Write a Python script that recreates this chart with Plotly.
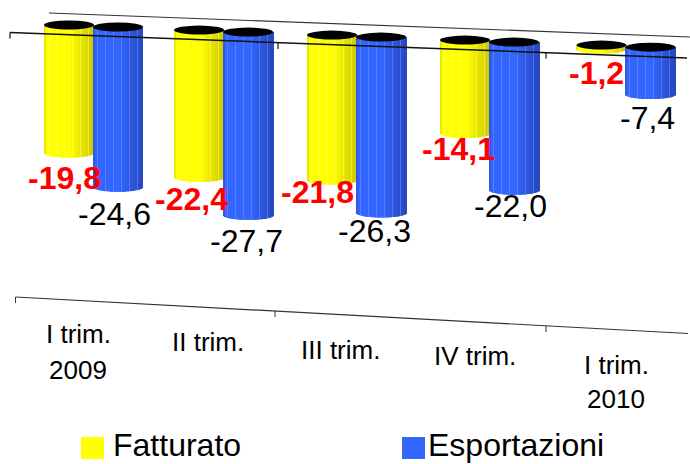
import math
import plotly.graph_objects as go

# ---- data ----
CATEGORIES = [["I trim.", "2009"], ["II trim."], ["III trim."], ["IV trim."], ["I trim.", "2010"]]
FATTURATO = [-19.8, -22.4, -21.8, -14.1, -1.2]
ESPORTAZIONI = [-24.6, -27.7, -26.3, -22.0, -7.4]
SERIES_NAMES = ["Fatturato", "Esportazioni"]

# ---- layout / style constants ----
W, H = 690, 464
PX_X = 133.0            # pixels per category
PX_Y = 6.7              # pixels per value unit
X0_PX, Y0_PX = 93.5, 22.0
GROUP_NUDGE = [0.0, -0.022, -0.0225, -0.0225, 0.004]
SERIES_OFFSET = [-24.5 / PX_X, 24.5 / PX_X]
BAR_PX = 50
TILT_START, TILT_GROUP, TILT_SERIES = 0.45, 0.75, 0.3
PERSPECTIVE = 0.012
DEPTH = 4.5 / PX_Y
LABEL_NUDGE = [
    [(-5, 20), (-7.5, 17), (-15, 7), (-7, 11), (-5, 19)],
    [(-4, 22), (-2, 21), (-7, 13), (-4, 11), (-3, 19)],
]
CAT_POS = [[(78, 334), (78, 370)], [(208, 342)], [(340, 350)], [(475, 356)], [(616, 365), (616, 399)]]
FONT = "Liberation Sans, Arial, sans-serif"

LIGHT = [(255, 255, 0), (51, 102, 255)]
DARK = [(205, 200, 0), (38, 72, 190)]
FACET = [(255, 255, 110), (120, 150, 255)]
SOLID = ["#FFFF00", "#3366FF"]


def mix(a, b, t):
    return tuple(round(a[k] + (b[k] - a[k]) * t) for k in range(3))


def rgb(c):
    return f"rgb({c[0]},{c[1]},{c[2]})"


def px_x(p):
    return p / W


def px_y(p):
    return 1 - p / H


fig = go.Figure()
shapes = []
annotations = []


def line(x0, y0, x1, y1, color="#222", width=1.2, layer="above"):
    shapes.append(dict(type="line", xref="paper", yref="paper", x0=px_x(x0), y0=px_y(y0),
                       x1=px_x(x1), y1=px_y(y1), line=dict(color=color, width=width), layer=layer))


line(49, 13, 690, 37, "#333", 1.2, "below")

for s, values in enumerate([FATTURATO, ESPORTAZIONI]):
    centers = [i + GROUP_NUDGE[i] + SERIES_OFFSET[s] for i in range(len(values))]
    bases = [-(TILT_START + TILT_GROUP * i + TILT_SERIES * s) for i in range(len(values))]
    # the series itself
    fig.add_trace(go.Bar(name=SERIES_NAMES[s], x=centers, y=values, base=bases,
                         width=16 / PX_X, marker=dict(color=SOLID[s], line=dict(width=0)),
                         showlegend=False))
    # cylinder shading, one pixel-wide strip at a time
    sx, sy, sb, sc = [], [], [], []
    for i, v in enumerate(values):
        for k in range(BAR_PX):
            u = (k + 0.5) / BAR_PX * 2 - 1
            sx.append(centers[i] + (k + 0.5 - BAR_PX / 2) / PX_X)
            sy.append(v * (1 + PERSPECTIVE * i) + DEPTH * (1 - math.sqrt(1 - u * u)))
            sb.append(bases[i])
            t = max(0.0, (u - 0.05) / 0.95)
            c = mix(LIGHT[s], DARK[s], t)
            if u < -0.9:
                c = mix(c, DARK[s], 0.4)
            if k % 8 == 4:
                c = mix(c, FACET[s], 0.5)
            sc.append(rgb(c))
    fig.add_trace(go.Bar(x=sx, y=sy, base=sb, width=1 / PX_X,
                         marker=dict(color=sc, line=dict(width=0)),
                         showlegend=False, hoverinfo="skip"))
    for i, v in enumerate(values):
        half = BAR_PX / 2 / PX_X
        shapes.append(dict(type="circle", xref="x", yref="y", x0=centers[i] - half, x1=centers[i] + half,
                           y0=bases[i] - DEPTH, y1=bases[i] + DEPTH,
                           fillcolor="black", line=dict(width=0), layer="above"))
        dx, dy = LABEL_NUDGE[s][i]
        annotations.append(dict(x=centers[i], y=bases[i] + v * (1 + PERSPECTIVE * i), xref="x", yref="y",
                                xanchor="center", yanchor="middle", xshift=dx, yshift=-dy, showarrow=False,
                                text=("<b>%s</b>" if s == 0 else "%s") % f"{v:.1f}".replace(".", ","),
                                font=dict(family=FONT, size=32, color="#FF0000" if s == 0 else "black")))

# front value-zero line and its ticks
line(10, 32.5, 687, 58, "#111", 1.5)
for x, y in [(10, 32.5), (278, 43), (546, 52.5)]:
    line(x, y, x, y + 6, "#111", 1.2)

# slanted category line, ticks, labels
line(15.5, 297, 688, 333.5, "#333", 1.2)
for x, y in [(15.5, 297), (275, 311), (546, 326)]:
    line(x, y, x, y + 6, "#333", 1)
for lines, pos in zip(CATEGORIES, CAT_POS):
    for txt, (x, y) in zip(lines, pos):
        annotations.append(dict(x=px_x(x), y=px_y(y), xref="paper", yref="paper", xanchor="center",
                                yanchor="middle", showarrow=False, text=txt,
                                font=dict(family=FONT, size=26, color="black")))

# legend
for name, col, x0, tx in zip(SERIES_NAMES, SOLID, (81, 402), (111, 426)):
    shapes.append(dict(type="rect", xref="paper", yref="paper", x0=px_x(x0), x1=px_x(x0 + 23),
                       y0=px_y(437), y1=px_y(459), fillcolor=col, line=dict(width=0), layer="above"))
    annotations.append(dict(x=px_x(tx), y=px_y(445), xref="paper", yref="paper", xanchor="left",
                            yanchor="middle", showarrow=False, text=name,
                            font=dict(family=FONT, size=32, color="black")))

fig.update_layout(
    width=W, height=H, margin=dict(l=0, r=0, t=0, b=0, pad=0),
    paper_bgcolor="white", plot_bgcolor="white", barmode="overlay", showlegend=False,
    xaxis=dict(visible=False, range=[-X0_PX / PX_X, (W - X0_PX) / PX_X], fixedrange=True),
    yaxis=dict(visible=False, range=[(Y0_PX - H) / PX_Y, Y0_PX / PX_Y], fixedrange=True),
    shapes=shapes, annotations=annotations,
)
fig.write_html("out.html", config={"displayModeBar": False},
               post_script="document.body.style.margin='0';document.body.style.overflow='hidden';")
